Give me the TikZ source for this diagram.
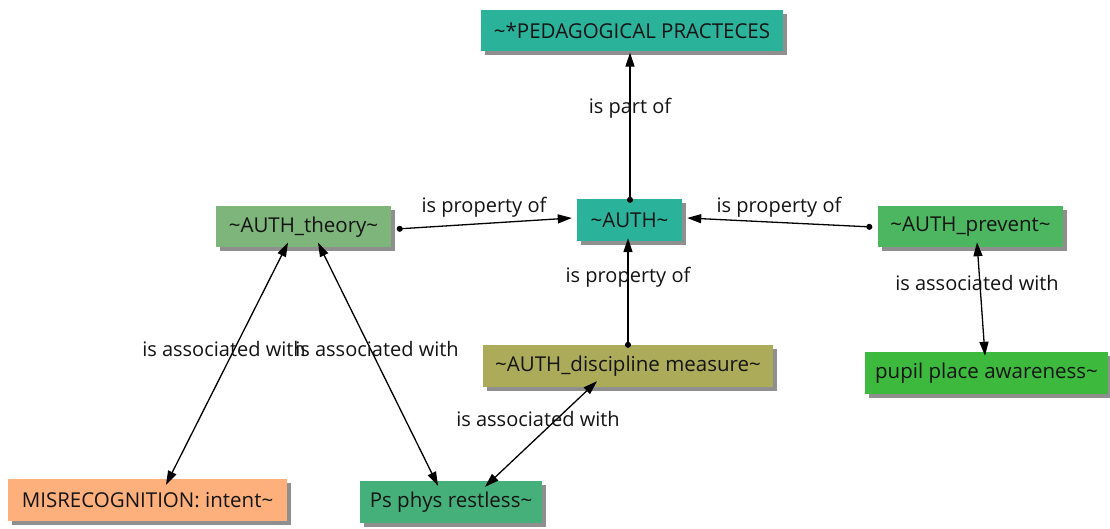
\documentclass[tikz,border=0pt]{standalone}
\usepackage{fontspec}
\setmainfont{Open Sans}
\usetikzlibrary{arrows.meta,shadows,calc}
\definecolor{tealbox}{HTML}{2BB29A}
\definecolor{sagebox}{HTML}{7DB57A}
\definecolor{prevbox}{HTML}{4CB760}
\definecolor{pupilbox}{HTML}{3DBA3D}
\definecolor{olivebox}{HTML}{ACAB5A}
\definecolor{peachbox}{HTML}{FDB07C}
\definecolor{psbox}{HTML}{45B07A}
\definecolor{inktext}{HTML}{141414}
\tikzset{
  concept/.style={rectangle, inner sep=0pt, minimum height=41pt, text=inktext,
    font=\fontsize{20.5}{24}\selectfont,
    drop shadow={shadow xshift=4pt, shadow yshift=-4pt, fill=black!55, opacity=0.8}},
  link/.style={line width=1.3pt, draw=black},
  onearrow/.style={link, {Circle[length=6pt]}-{Triangle[length=14pt,width=9pt]}},
  twoarrow/.style={link, {Triangle[length=14pt,width=9pt]}-{Triangle[length=14pt,width=9pt]}},
  linklabel/.style={font=\fontsize{20}{24}\selectfont, text=inktext, inner sep=0pt}
}
\begin{document}
\begin{tikzpicture}[x=1pt,y=-1pt]
\useasboundingbox[fill=white] (0,0) rectangle (1110,529);

% concepts
\node[concept, fill=tealbox, minimum width=302pt] (ped) at (632,30.5) {\textasciitilde*PEDAGOGICAL PRACTECES};
\node[concept, fill=tealbox, minimum width=105pt, minimum height=42pt] (auth) at (629.5,220) {\textasciitilde AUTH\textasciitilde};
\node[concept, fill=sagebox, minimum width=175pt] (theory) at (303.5,227) {\textasciitilde AUTH\_theory\textasciitilde};
\node[concept, fill=prevbox, minimum width=185pt] (prevent) at (970.5,226.5) {\textasciitilde AUTH\_prevent\textasciitilde};
\node[concept, fill=olivebox, minimum width=290pt, minimum height=42pt] (disc) at (628,366) {\textasciitilde AUTH\_discipline measure\textasciitilde};
\node[concept, fill=pupilbox, minimum width=243pt, minimum height=42pt] (pupil) at (986.5,373) {pupil place awareness\textasciitilde};
\node[concept, fill=peachbox, minimum width=279pt, minimum height=42pt] (mis) at (147.5,500) {MISRECOGNITION: intent\textasciitilde};
\node[concept, fill=psbox, minimum width=182pt, minimum height=42pt] (ps) at (451,502) {Ps phys restless\textasciitilde};

% directed links
\draw[onearrow] ([xshift=0.5pt,yshift=-4pt]auth.north) -- ([xshift=-2pt,yshift=-1.5pt]ped.south);
\draw[onearrow] ([xshift=5.5pt,yshift=-2pt]theory.east) -- ([xshift=-5pt,yshift=2pt]auth.west);
\draw[onearrow] ([xshift=-5.5pt,yshift=-0.5pt]prevent.west) -- ([xshift=5pt,yshift=2pt]auth.east);
\draw[onearrow] ([yshift=-3pt]disc.north) -- ([xshift=-1.5pt,yshift=3pt]auth.south);

% associations
\draw[twoarrow] ([xshift=6.5pt,yshift=5pt]prevent.south) -- ([xshift=-1.5pt,yshift=-4pt]pupil.north);
\draw[twoarrow] ([xshift=-15.5pt,yshift=5pt]theory.south) -- ([xshift=18.5pt,yshift=-6pt]mis.north);
\draw[twoarrow] ([xshift=14.5pt,yshift=5pt]theory.south) -- ([xshift=-13pt,yshift=-5pt]ps.north);
\draw[twoarrow] ([xshift=-31pt,yshift=6pt]disc.south) -- ([xshift=34pt,yshift=-6pt]ps.north);

% link labels
\node[linklabel] (lpart) at (630,108) {is part of};
\node[linklabel] (lpropl) at (484,207) {is property of};
\node[linklabel] (lpropr) at (779,207) {is property of};
\node[linklabel] (lpropm) at (628,277) {is property of};
\node[linklabel] (lassp) at (977,283) {is associated with};
\node[linklabel] (lassm) at (224,349) {is associated with};
\node[linklabel] (lassps) at (377,349) {is associated with};
\node[linklabel] (lassd) at (538,419) {is associated with};
\end{tikzpicture}
\end{document}
